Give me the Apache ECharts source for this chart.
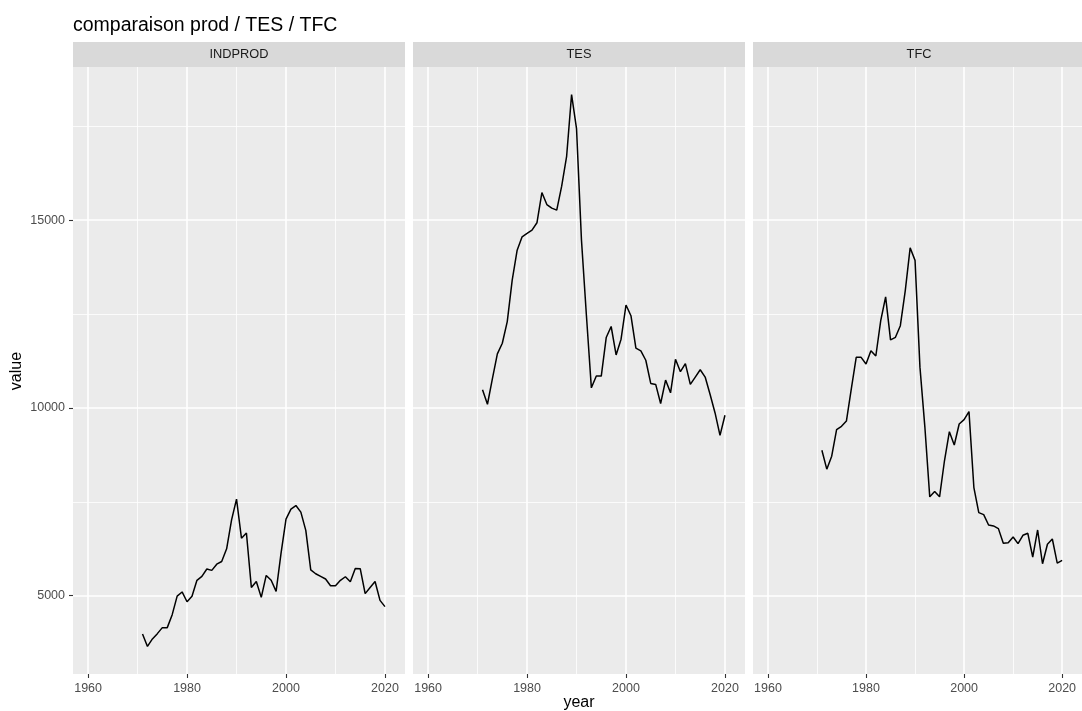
<!DOCTYPE html>
<html>
<head>
<meta charset="utf-8">
<script src="https://cdn.jsdelivr.net/npm/echarts@6/dist/echarts.min.js"></script>
<style>
  html, body { margin: 0; padding: 0; background: #ffffff; }
  #chart { width: 1082px; height: 711px; }
</style>
</head>
<body>
<div id="chart"></div>
<script>
// Years covered by the three series
const years = [
  1971, 1972, 1973, 1974, 1975, 1976, 1977, 1978, 1979, 1980,
  1981, 1982, 1983, 1984, 1985, 1986, 1987, 1988, 1989, 1990,
  1991, 1992, 1993, 1994, 1995, 1996, 1997, 1998, 1999, 2000,
  2001, 2002, 2003, 2004, 2005, 2006, 2007, 2008, 2009, 2010,
  2011, 2012, 2013, 2014, 2015, 2016, 2017, 2018, 2019, 2020
];

// Facet values
const indprod = [
  3980, 3650, 3850, 3990, 4150, 4150, 4495, 4990, 5100, 4840,
  4985, 5410, 5515, 5710, 5675, 5840, 5910, 6250, 7020, 7570,
  6530, 6670, 5220, 5380, 4955, 5540, 5410, 5115, 6135, 7040,
  7305, 7400, 7225, 6740, 5690, 5585, 5515, 5445, 5265, 5265,
  5410, 5505, 5370, 5725, 5720, 5055, 5220, 5380, 4875, 4710
];
const tes = [
  10487, 10098, 10778, 11440, 11721, 12300, 13404, 14200, 14557, 14645,
  14734, 14930, 15735, 15415, 15320, 15266, 15904, 16700, 18343, 17438,
  14468, 12460, 10535, 10849, 10849, 11874, 12168, 11411, 11831, 12741,
  12455, 11590, 11518, 11269, 10653, 10626, 10118, 10742, 10402, 11295,
  10964, 11178, 10626, 10822, 11017, 10822, 10358, 9866, 9269, 9805
];
const tfc = [
  8874, 8370, 8715, 9422, 9510, 9650, 10508, 11346, 11346, 11170,
  11524, 11383, 12322, 12958, 11811, 11880, 12190, 13117, 14263, 13929,
  11086, 9497, 7632, 7774, 7632, 8593, 9367, 9012, 9573, 9688,
  9901, 7880, 7213, 7160, 6884, 6857, 6786, 6395, 6412, 6564,
  6386, 6609, 6662, 6030, 6750, 5851, 6369, 6510, 5869, 5941
];

const panelNames = ['INDPROD', 'TES', 'TFC'];
const panelValues = [indprod, tes, tfc];

// Tick positions
const xMajor = [1960, 1980, 2000, 2020];
const xMinor = [1970, 1990, 2010];
const yMajor = [5000, 10000, 15000];
const yMinor = [7500, 12500, 17500];

const FONT = '"Liberation Sans", Arial, sans-serif';

// Shared y limits with a 5% expansion on each side
const all = indprod.concat(tes, tfc);
const yLo = Math.min.apply(null, all), yHi = Math.max.apply(null, all);
const yPad = (yHi - yLo) * 0.05;
const yMin = yLo - yPad, yMax = yHi + yPad;
// x limits span 1960-2021 with the same 5% expansion
const xMin = 1956.95, xMax = 2024.05;

const PANEL_LEFT = 73, PANEL_STEP = 340, PANEL_W = 332;
const PANEL_TOP = 67, PANEL_H = 607;

const plain = function (v) { return String(v); };

const grids = [], xAxes = [], yAxes = [], series = [], graphics = [];

panelNames.forEach(function (name, i) {
  const left = PANEL_LEFT + PANEL_STEP * i;
  grids.push({
    left: left, top: PANEL_TOP, width: PANEL_W, height: PANEL_H,
    show: true, backgroundColor: '#EBEBEB', borderWidth: 0
  });

  // minor grid axis
  xAxes.push({
    type: 'value', gridIndex: i, position: 'bottom', min: xMin, max: xMax,
    axisLine: { show: false },
    axisTick: { show: false, customValues: xMinor },
    axisLabel: { show: false, customValues: xMinor },
    splitLine: { show: true, lineStyle: { color: '#FFFFFF', width: 0.8 } }
  });
  // major axis with ticks and labels
  xAxes.push({
    type: 'value', gridIndex: i, position: 'bottom', min: xMin, max: xMax,
    axisLine: { show: false },
    axisTick: { show: true, length: 4, customValues: xMajor,
      lineStyle: { color: '#333333', width: 1.1 } },
    axisLabel: { show: true, customValues: xMajor, color: '#4D4D4D',
      fontSize: 12.5, fontFamily: FONT, margin: 8, formatter: plain },
    splitLine: { show: true, lineStyle: { color: '#FFFFFF', width: 1.6 } }
  });

  yAxes.push({
    type: 'value', gridIndex: i, position: 'left', min: yMin, max: yMax,
    axisLine: { show: false },
    axisTick: { show: false, customValues: yMinor },
    axisLabel: { show: false, customValues: yMinor },
    splitLine: { show: true, lineStyle: { color: '#FFFFFF', width: 0.8 } }
  });
  yAxes.push({
    type: 'value', gridIndex: i, position: 'left', min: yMin, max: yMax,
    axisLine: { show: false },
    axisTick: { show: i === 0, length: 4, customValues: yMajor,
      lineStyle: { color: '#333333', width: 1.1 } },
    axisLabel: { show: i === 0, customValues: yMajor, color: '#4D4D4D',
      fontSize: 12.5, fontFamily: FONT, margin: 8, formatter: plain },
    splitLine: { show: true, lineStyle: { color: '#FFFFFF', width: 1.6 } }
  });

  const vals = panelValues[i];
  series.push({
    type: 'line', name: name,
    xAxisIndex: 2 * i + 1, yAxisIndex: 2 * i + 1,
    data: years.map(function (y, k) { return [y, vals[k]]; }),
    showSymbol: false, symbol: 'none', z: 5,
    lineStyle: { color: '#000000', width: 1.5 },
    animation: false
  });

  // facet strip
  graphics.push({
    type: 'rect',
    shape: { x: left, y: 42, width: PANEL_W, height: 25 },
    style: { fill: '#D9D9D9' }
  });
  graphics.push({
    type: 'text', x: left + PANEL_W / 2, y: 54.5,
    style: { text: name, fill: '#1A1A1A', font: '12.8px ' + FONT,
      textAlign: 'center', textVerticalAlign: 'middle' }
  });
});

// axis titles
graphics.push({
  type: 'text', x: 579, y: 703,
  style: { text: 'year', fill: '#000000', font: '16px ' + FONT,
    textAlign: 'center', textVerticalAlign: 'middle' }
});
graphics.push({
  type: 'text', x: 17, y: 371, rotation: Math.PI / 2,
  style: { text: 'value', fill: '#000000', font: '16px ' + FONT,
    textAlign: 'center', textVerticalAlign: 'middle' }
});

const chart = echarts.init(document.getElementById('chart'), null, { renderer: 'canvas' });
chart.setOption({
  animation: false,
  backgroundColor: '#FFFFFF',
  title: {
    text: 'comparaison prod / TES / TFC',
    left: 73, top: 16, padding: 0,
    textStyle: { fontSize: 19.5, fontWeight: 'normal', color: '#000000', fontFamily: FONT }
  },
  grid: grids,
  xAxis: xAxes,
  yAxis: yAxes,
  series: series,
  graphic: graphics
});
</script>
</body>
</html>
